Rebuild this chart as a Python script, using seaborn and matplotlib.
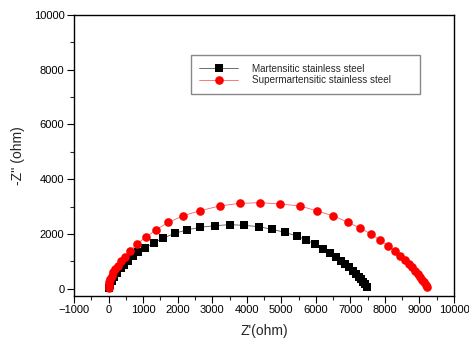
import matplotlib
matplotlib.use("Agg")
import matplotlib.pyplot as plt
import seaborn as sns
import pandas as pd
from matplotlib.ticker import MultipleLocator
from matplotlib.lines import Line2D

# Martensitic stainless steel (Z', -Z'')
mart_zre = [5, 43, 101, 169, 256, 352, 449, 555, 700, 864, 1066, 1317, 1587, 1915,
            2263, 2649, 3079, 3504, 3929, 4344, 4730, 5106, 5444, 5717, 5987, 6219,
            6412, 6576, 6721, 6846, 6962, 7068, 7165, 7242, 7309, 7376, 7434, 7483]
mart_zim = [26, 146, 292, 438, 585, 744, 866, 1023, 1183, 1341, 1498, 1681, 1852, 2023,
            2145, 2243, 2302, 2339, 2314, 2266, 2168, 2058, 1924, 1779, 1621, 1450,
            1316, 1169, 1023, 902, 780, 658, 548, 438, 341, 244, 159, 73]

# Supermartensitic stainless steel (Z', -Z'')
sup_zre = [0, 5, 24, 53, 91, 140, 198, 265, 352, 468, 622, 825, 1076, 1375, 1732,
           2166, 2649, 3214, 3793, 4382, 4971, 5543, 6044, 6507, 6933, 7290, 7608,
           7868, 8100, 8284, 8438, 8574, 8690, 8786, 8873, 8950, 9017, 9075, 9133,
           9182, 9228]
sup_zim = [37, 135, 245, 354, 475, 598, 719, 841, 999, 1169, 1389, 1645, 1876, 2156,
           2424, 2667, 2850, 3021, 3118, 3142, 3094, 3021, 2839, 2656, 2425, 2206,
           1987, 1768, 1560, 1377, 1195, 1037, 902, 780, 658, 548, 438, 329, 234,
           146, 73]

labels = ["Martensitic stainless steel", "Supermartensitic stainless steel"]
x_ticks = list(range(-1000, 10001, 1000))
y_ticks = list(range(0, 10001, 2000))

sns.set_theme(style="white")
plt.rcParams['font.family'] = ['Liberation Sans', 'DejaVu Sans']

fig = plt.figure(figsize=(4.69, 3.41), dpi=100)
ax = fig.add_axes([0.158, 0.133, 0.810, 0.823])

df1 = pd.DataFrame({"x": mart_zre, "y": mart_zim})
df2 = pd.DataFrame({"x": sup_zre, "y": sup_zim})

sns.lineplot(data=df1, x="x", y="y", sort=False, estimator=None, ax=ax,
             color="#555555", lw=0.6, marker="s", markersize=5.5,
             markerfacecolor="black", markeredgecolor="black", markeredgewidth=0)
sns.lineplot(data=df2, x="x", y="y", sort=False, estimator=None, ax=ax,
             color="#ff6060", lw=0.6, marker="o", markersize=6.2,
             markerfacecolor="red", markeredgecolor="red", markeredgewidth=0)

ax.set_xlim(-1000, 10000)
ax.set_ylim(-255, 10000)
ax.set_xticks(x_ticks)
ax.set_yticks(y_ticks)
ax.xaxis.set_minor_locator(MultipleLocator(500))
ax.yaxis.set_minor_locator(MultipleLocator(1000))
ax.tick_params(axis="both", which="major", direction="out", length=5, width=0.8,
               labelsize=8, colors="black", bottom=True, left=True, top=False, right=False,
               pad=2)
ax.tick_params(axis="both", which="minor", direction="out", length=3, width=0.8,
               bottom=True, left=True, top=False, right=False)
for s in ax.spines.values():
    s.set_color("black")
    s.set_linewidth(1.0)

ax.set_xlabel("Z'(ohm)", fontsize=10, labelpad=6)
ax.set_ylabel("-Z'' (ohm)", fontsize=10, labelpad=6)

handles = [
    Line2D([], [], color="#555555", lw=0.6, marker="s", markersize=5.5,
           markerfacecolor="black", markeredgewidth=0),
    Line2D([], [], color="#ff6060", lw=0.6, marker="o", markersize=6.2,
           markerfacecolor="red", markeredgewidth=0),
]
leg = ax.legend(handles, labels, loc="upper left",
                bbox_to_anchor=(0.308, 0.857, 0.603, 0.0), mode="expand",
                borderaxespad=0, fontsize=7.1, frameon=True, fancybox=False,
                edgecolor="#888888", framealpha=1, handlelength=3.9,
                handletextpad=1.4, labelspacing=0.2, borderpad=0.85)
leg.get_frame().set_linewidth(1.0)

fig.savefig("out.png", dpi=100)
